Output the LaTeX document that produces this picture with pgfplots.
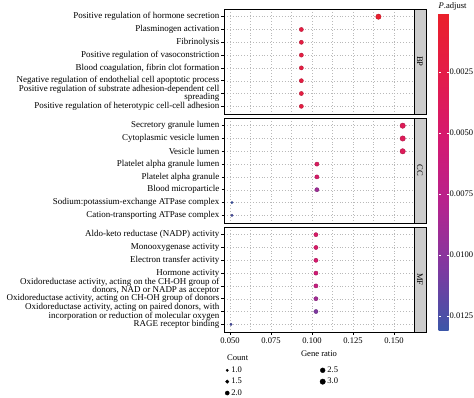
\documentclass[border=0pt]{standalone}
\usepackage{pgfplots}
\pgfplotsset{compat=1.18}
\usepackage{pgfplotstable}
\usepackage{fontspec}
\setmainfont{Liberation Serif}
\newcommand{\lab}{\fontsize{9}{8.2}\selectfont}
\newcommand{\tlab}{\fontsize{8.6}{9}\selectfont}
\definecolor{stripgray}{RGB}{204,204,204}

\pgfplotstableread{
ratio pos p count
0.1405 8 0.0005 3
0.0935 7 0.0020 2
0.0935 6 0.0020 2
0.0935 5 0.0020 2
0.0935 4 0.0020 2
0.0935 3 0.0020 2
0.0935 2 0.0020 2
0.0935 1 0.0020 2
}\bp
\pgfplotstableread{
ratio pos p count
0.1553 8 0.0035 3
0.1553 7 0.0036 3
0.1553 6 0.0037 3
0.1030 5 0.0040 2
0.1030 4 0.0046 2
0.1030 3 0.0090 2
0.0512 2 0.0130 1
0.0512 1 0.0125 1
}\cc
\pgfplotstableread{
ratio pos p count
0.1024 8 0.0045 2
0.1024 7 0.0046 2
0.1024 6 0.0050 2
0.1024 5 0.0055 2
0.1024 4 0.0065 2
0.1024 3 0.0088 2
0.1024 2 0.0105 2
0.0506 1 0.0125 1
}\mf

\pgfplotsset{
  colormap={padj}{rgb255=(234,32,42) rgb255=(227,28,75) rgb255=(212,25,113) rgb255=(182,35,142) rgb255=(128,56,160) rgb255=(60,86,168)},
  panel/.style={
    scale only axis, width=190bp, height=105bp,
    xmin=0.04634, xmax=0.1622, ymin=0.4, ymax=8.6,
    ytick={1,2,3,4,5,6,7,8},
    xtick={0.05,0.075,0.1,0.125,0.15},
    minor xtick={0.0625,0.0875,0.1125,0.1375},
    xmajorgrids, xminorgrids, ymajorgrids,
    major grid style={gray!55, line width=0.4pt, dash pattern=on 0.5pt off 2.4pt},
    minor grid style={gray!55, line width=0.4pt, dash pattern=on 0.5pt off 2.4pt},
    tick align=outside, major tick length=2.5bp, minor tick length=0pt,
    ytick pos=left, xtick pos=bottom,
    axis line style={line width=0.8pt},
    tick style={black, line width=0.5pt},
    point meta min=0.00008, point meta max=0.01307,
    colormap name=padj,
    clip=false,
    yticklabel style={align=right, font=\lab, inner xsep=2bp},
    xticklabel style={font=\tlab, /pgf/number format/fixed, /pgf/number format/fixed zerofill, /pgf/number format/precision=3, /pgf/number format/assume math mode=true},
    label style={font=\tlab},
  },
  dots/.style={scatter, only marks, mark=*, point meta=explicit,
    visualization depends on={sqrt(1.44+(\thisrow{count}-1)*2.925) \as \perpointmarksize},
    scatter/@pre marker code/.append style={/tikz/mark size=\perpointmarksize},
    forget plot},
}

\begin{document}
\begin{tikzpicture}
\useasboundingbox (0,0) rectangle (474bp,-398bp);

% BP
\begin{axis}[panel, at={(224bp,-9bp)}, anchor=north west,
  xticklabels={}, xtick style={draw=none},
  yticklabels={{Positive regulation of heterotypic cell-cell adhesion},
    {Positive regulation of substrate adhesion-dependent cell\\spreading},
    {Negative regulation of endothelial cell apoptotic process},
    {Blood coagulation, fibrin clot formation},
    {Positive regulation of vasoconstriction},
    {Fibrinolysis},
    {Plasminogen activation},
    {Positive regulation of hormone secretion}},
  colorbar,
  colorbar style={
    at={(parent axis.north east)}, anchor=north west, xshift=16bp, yshift=-4bp,
    scale only axis, width=10bp, height=317bp,
    y dir=reverse,
    ytick={0.0025,0.005,0.0075,0.01,0.0125},
    scaled y ticks=false,
    yticklabel style={font=\tlab, inner xsep=1bp, /pgf/number format/fixed, /pgf/number format/fixed zerofill, /pgf/number format/precision=4, /pgf/number format/assume math mode=true},
    yticklabel pos=right, ytick pos=both,
    tick align=inside, major tick length=2bp,
    ytick style={white, line width=0.6pt},
    axis line style={draw=none},
    title={\textit{P}.adjust},
    title style={font=\tlab, anchor=south west, at={(0,1)}, yshift=-7bp, inner xsep=0pt},
  },
]
\addplot[dots] table[x=ratio, y=pos, meta=p] {\bp};
\draw[fill=stripgray, line width=0.6pt] (rel axis cs:1,0) rectangle ([xshift=12bp]rel axis cs:1,1);
\node[rotate=-90, font=\tlab] at ([xshift=6bp]rel axis cs:1,0.5) {BP};
\end{axis}

% CC
\begin{axis}[panel, at={(224bp,-118bp)}, anchor=north west,
  xticklabels={}, xtick style={draw=none},
  yticklabels={{Cation-transporting ATPase complex},
    {Sodium:potassium-exchange ATPase complex},
    {Blood microparticle},
    {Platelet alpha granule},
    {Platelet alpha granule lumen},
    {Vesicle lumen},
    {Cytoplasmic vesicle lumen},
    {Secretory granule lumen}},
]
\addplot[dots] table[x=ratio, y=pos, meta=p] {\cc};
\draw[fill=stripgray, line width=0.6pt] (rel axis cs:1,0) rectangle ([xshift=12bp]rel axis cs:1,1);
\node[rotate=-90, font=\tlab] at ([xshift=6bp]rel axis cs:1,0.5) {CC};
\end{axis}

% MF
\begin{axis}[panel, at={(224bp,-227bp)}, anchor=north west,
  xlabel={Gene ratio},
  yticklabels={{RAGE receptor binding},
    {Oxidoreductase activity, acting on paired donors, with\\incorporation or reduction of molecular oxygen},
    {Oxidoreductase activity, acting on CH-OH group of donors},
    {Oxidoreductase activity, acting on the CH-OH group of\\donors, NAD or NADP as acceptor},
    {Hormone activity},
    {Electron transfer activity},
    {Monooxygenase activity},
    {Aldo-keto reductase (NADP) activity}},
  legend columns=2,
  legend cell align=left,
  legend image code/.code={\draw[#1] plot coordinates {(2bp,0bp)};},
  legend style={draw=none, fill=none, font=\tlab, at={(0,0)}, anchor=north west,
    xshift=1bp, yshift=-32.5bp, inner sep=0pt, row sep=0.2bp,
    /tikz/every even column/.append style={column sep=76bp}},
]
\addplot[dots] table[x=ratio, y=pos, meta=p] {\mf};
\draw[fill=stripgray, line width=0.6pt] (rel axis cs:1,0) rectangle ([xshift=12bp]rel axis cs:1,1);
\node[rotate=-90, font=\tlab] at ([xshift=6bp]rel axis cs:1,0.5) {MF};
\node[anchor=base west, font=\tlab, inner sep=0pt] at ([xshift=3bp, yshift=-28bp]rel axis cs:0,0) {Count};
\addlegendimage{only marks, mark=*, black, mark size=1.2bp}\addlegendentry{1.0}
\addlegendimage{only marks, mark=*, black, mark size=2.4bp}\addlegendentry{2.5}
\addlegendimage{only marks, mark=*, black, mark size=1.69bp}\addlegendentry{1.5}
\addlegendimage{only marks, mark=*, black, mark size=2.7bp}\addlegendentry{3.0}
\addlegendimage{only marks, mark=*, black, mark size=2.06bp}\addlegendentry{2.0}
\end{axis}
\end{tikzpicture}
\end{document}
